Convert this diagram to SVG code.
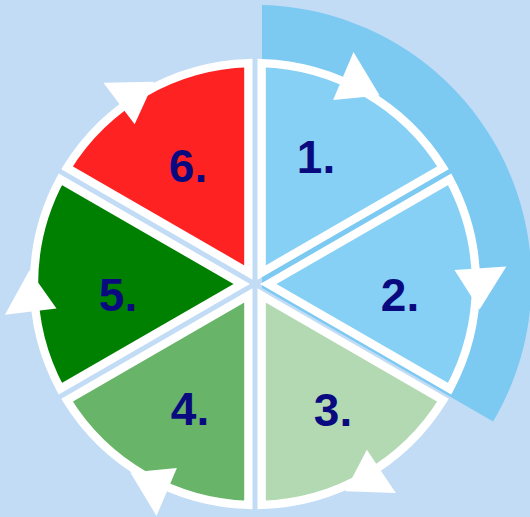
<svg xmlns="http://www.w3.org/2000/svg" xmlns:xlink="http://www.w3.org/1999/xlink" width="530" height="517" viewBox="0 0 530 517">
  <style>
    .sec { stroke: #ffffff; stroke-width: 8.3; stroke-linejoin: miter; }
    .lbl { font-family: "Liberation Sans", Arial, sans-serif; font-weight: bold; font-size: 46px; fill: #0a0a80; text-anchor: middle; }
    .arw { fill: #ffffff; }
  </style>
  <defs>
    <polygon id="arrowhead" class="arw" points="379.7,95.5 353.5,52.1 333.1,99.9"/>
  </defs>
  <rect x="0" y="0" width="530" height="517" fill="#c2dcf6"/>
  <g id="band">
    <path d="M262,288 L262,5.1 A276,276 0 0 1 493.1,421.5 Z" fill="#7cc9f2"/>
  </g>
  <g id="sector1">
    <path class="sec" d="M261.65,272.48 L261.65,63.10 A221,221 0 0 1 442.95,167.74 Z" fill="#87d0f5"/>
    <text class="lbl" x="316" y="173">1.</text>
  </g>
  <g id="sector2">
    <path class="sec" d="M268.30,284 L449.62,179.29 A221,221 0 0 1 449.62,388.71 Z" fill="#87d0f5"/>
    <text class="lbl" x="400" y="311">2.</text>
  </g>
  <g id="sector3">
    <path class="sec" d="M261.65,295.52 L442.95,400.26 A221,221 0 0 1 261.65,504.90 Z" fill="#b3d9b3"/>
    <text class="lbl" x="333" y="426">3.</text>
  </g>
  <g id="sector4">
    <path class="sec" d="M248.35,295.52 L248.35,504.90 A221,221 0 0 1 67.05,400.26 Z" fill="#68b468"/>
    <text class="lbl" x="190" y="425">4.</text>
  </g>
  <g id="sector5">
    <path class="sec" d="M241.70,284 L60.38,388.71 A221,221 0 0 1 60.38,179.29 Z" fill="#008000"/>
    <text class="lbl" x="118" y="311">5.</text>
  </g>
  <g id="sector6">
    <path class="sec" d="M248.35,272.48 L67.05,167.74 A221,221 0 0 1 248.35,63.10 Z" fill="#ff2222"/>
    <text class="lbl" x="188" y="182">6.</text>
  </g>
  <g id="connectors">
    <use xlink:href="#arrowhead"/>
    <use xlink:href="#arrowhead" transform="rotate(63 255 284)"/>
    <use xlink:href="#arrowhead" transform="rotate(123 255 284)"/>
    <use xlink:href="#arrowhead" transform="rotate(180 255 284)"/>
    <use xlink:href="#arrowhead" transform="rotate(240 255 284)"/>
    <use xlink:href="#arrowhead" transform="rotate(300 255 284)"/>
  </g>
</svg>
